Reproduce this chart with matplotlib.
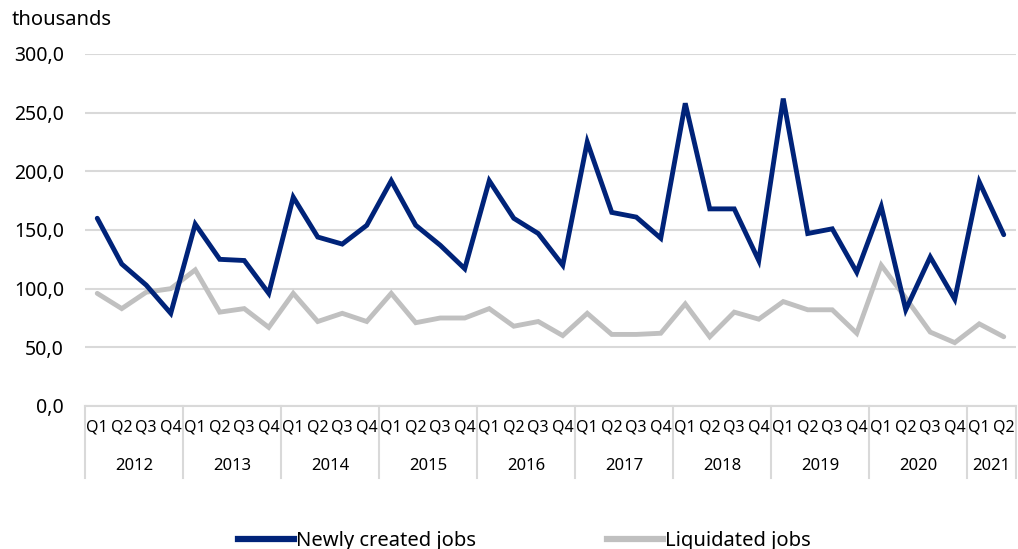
import matplotlib
matplotlib.use("Agg")
from matplotlib import pyplot as plt
from matplotlib.ticker import FuncFormatter
from matplotlib.lines import Line2D

plt.rcParams['font.family'] = ['Noto Sans', 'DejaVu Sans']

# --- data (thousands) ---
years = ["2012", "2013", "2014", "2015", "2016", "2017", "2018", "2019", "2020", "2021"]
quarters_per_year = [4, 4, 4, 4, 4, 4, 4, 4, 4, 2]
quarter_labels = ["Q1", "Q2", "Q3", "Q4"]

newly_created = [160, 121, 103, 79,
                 155, 125, 124, 96,
                 178, 144, 138, 154,
                 192, 154, 137, 117,
                 192, 160, 147, 120,
                 225, 165, 161, 143,
                 258, 168, 168, 124,
                 262, 147, 151, 114,
                 170, 82, 127, 91,
                 191, 146]
liquidated = [96, 83, 97, 100,
              116, 80, 83, 67,
              96, 72, 79, 72,
              96, 71, 75, 75,
              83, 68, 72, 60,
              79, 61, 61, 62,
              87, 59, 80, 74,
              89, 82, 82, 62,
              120, 92, 63, 54,
              70, 59]

BLUE = "#002379"
GRAY = "#C0C0C0"
GRID = "#D9D9D9"

xlabels = []
for n in quarters_per_year:
    xlabels += quarter_labels[:n]
x = list(range(len(xlabels)))

fig = plt.figure(figsize=(10.18, 5.49), dpi=100)
ax = fig.add_axes([85 / 1018, 1 - 406 / 549, (1016 - 85) / 1018, (406 - 54) / 549])

ax.plot(x, newly_created, color=BLUE, lw=3.5, solid_joinstyle='miter',
        solid_capstyle='round', zorder=3)
ax.plot(x, liquidated, color=GRAY, lw=3.5, solid_joinstyle='miter',
        solid_capstyle='round', zorder=2)

ax.set_xlim(-0.5, len(x) - 0.5)
ax.set_ylim(0, 300)
ax.set_yticks(range(0, 301, 50))
ax.yaxis.set_major_formatter(FuncFormatter(lambda v, p: f"{v:.1f}".replace(".", ",")))
ax.grid(axis='y', color=GRID, lw=1.5, zorder=0)
for s in ["top", "right", "left"]:
    ax.spines[s].set_visible(False)
ax.spines["bottom"].set_color(GRID)
ax.spines["bottom"].set_linewidth(1.5)
ax.tick_params(axis='y', length=0, pad=15, labelsize=14, colors="#000000")

ax.set_xticks(x)
ax.set_xticklabels(xlabels)
ax.tick_params(axis='x', length=0, pad=10, labelsize=11.5)

# group separators and year labels
sep_depth = (478 - 406) / (406 - 54)
year_y = -(466 - 406) / (406 - 54)
start = 0
bounds = [-0.5]
for yr, n in zip(years, quarters_per_year):
    center = start + (n - 1) / 2
    ax.text(center, year_y, yr, transform=ax.get_xaxis_transform(),
            ha='center', va='center', fontsize=12)
    start += n
    bounds.append(start - 0.5)
for b in bounds:
    ax.plot([b, b], [0, -sep_depth], transform=ax.get_xaxis_transform(),
            color=GRID, lw=1.5, clip_on=False)

fig.text(12 / 1018, 1 - 20 / 549, "thousands", ha='left', va='center', fontsize=14.5)

handles = [Line2D([], [], color=BLUE, lw=4.5), Line2D([], [], color=GRAY, lw=4.5)]
fig.legend(handles, ["Newly created jobs", "Liquidated jobs"], loc='center',
           bbox_to_anchor=(0.515, 1 - 541 / 549), ncol=2, frameon=False,
           fontsize=14.5, handlelength=2.8, handletextpad=0.1, columnspacing=6.5)

fig.savefig("out.png", dpi=100)
